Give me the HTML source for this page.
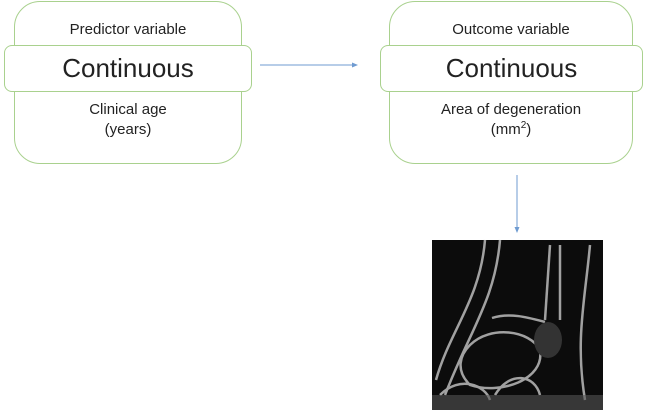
<!DOCTYPE html>
<html><head><style>
body{margin:0;width:660px;height:412px;background:#fff;position:relative;overflow:hidden;font-family:"Liberation Sans",sans-serif;color:#222}
.o{position:absolute;border:1px solid #a9d18e;border-radius:26px;background:#fff}
.b{position:absolute;border:1px solid #a9d18e;border-radius:8px;background:#fff;text-align:center;font-size:26px;line-height:44px}
.t{position:absolute;text-align:center;font-size:15px;line-height:20px}
sup{font-size:10px;line-height:0;vertical-align:6px}
</style></head><body>
<div class="o" style="left:14px;top:1px;width:226px;height:161px"></div>
<div class="t" style="left:14px;top:20px;width:228px">Predictor variable</div>
<div class="b" style="left:4px;top:45px;width:246px;height:45px">Continuous</div>
<div class="t" style="left:14px;top:100px;width:228px">Clinical age<br>(years)</div>

<div class="o" style="left:389px;top:1px;width:242px;height:161px"></div>
<div class="t" style="left:389px;top:20px;width:244px">Outcome variable</div>
<div class="b" style="left:380px;top:45px;width:261px;height:45px">Continuous</div>
<div class="t" style="left:389px;top:100px;width:244px">Area of degeneration<br>(mm<sup>2</sup>)</div>

<svg width="660" height="412" style="position:absolute;left:0;top:0">
<line x1="260" y1="65" x2="354" y2="65" stroke="#6f9bd1" stroke-width="1"/>
<polygon points="358,65 352,62.5 352,67.5" fill="#6f9bd1"/>
<line x1="517" y1="175" x2="517" y2="229" stroke="#6f9bd1" stroke-width="1"/>
<polygon points="517,233 514.5,227 519.5,227" fill="#6f9bd1"/>
<rect x="432" y="240" width="171" height="170" fill="#0c0c0c"/>
<g fill="none" stroke="#bbb" stroke-width="2.5" opacity="0.85">
<path d="M485 240 C480 300 450 330 436 380"/>
<path d="M500 240 C495 300 470 330 445 395"/>
<path d="M550 245 L545 320"/><path d="M560 245 L560 320"/>
<path d="M590 245 C585 300 575 340 585 400"/>
<path d="M492 318 C510 312 530 318 545 322"/>
<path d="M470 345 C490 325 530 330 540 350 C545 380 500 395 470 385 C455 370 460 355 470 345Z"/>
<path d="M440 395 C460 375 485 385 490 400"/>
<path d="M495 395 C510 370 535 375 540 395"/>
</g>
<ellipse cx="548" cy="340" rx="14" ry="18" fill="#333"/>
<rect x="432" y="395" width="171" height="15" fill="#555" opacity="0.6"/>
</svg>
</body></html>
